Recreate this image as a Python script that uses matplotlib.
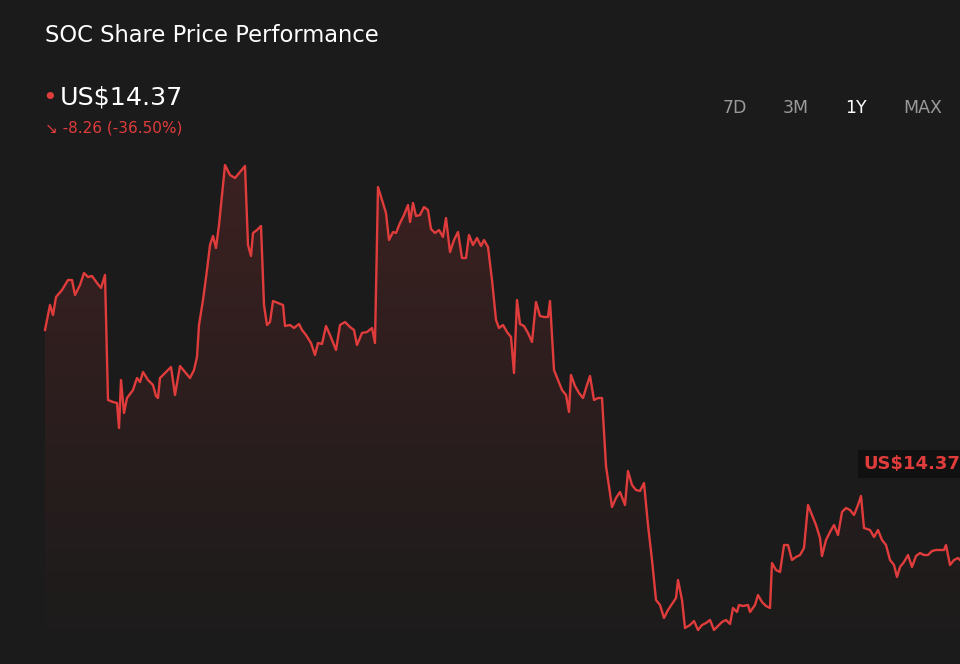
import matplotlib
matplotlib.use("Agg")
import matplotlib.pyplot as plt
import numpy as np
from matplotlib.patches import Polygon
from matplotlib.colors import LinearSegmentedColormap

# readings: (x position, vertical reading), converted to prices below
xs = [45,50,53,56,62,68,72,75,80,84,88,92,97,101,105,108,113,117,119,121,124,127,133,137,140,143,148,153,156,158,160,166,171,175,180,185,190,194,197,199,203,207,210,213,216,219,222,225,230,235,240,245,248,251,253,257,261,264,267,270,273,278,283,285,290,294,299,302,306,311,315,318,322,326,330,334,336,340,345,350,354,357,362,367,372,375,378,382,386,389,393,396,400,404,408,410,413,416,420,424,428,431,435,439,443,446,450,454,458,462,466,469,473,477,481,484,488,492,496,499,503,507,511,514,517,520,524,528,532,536,540,544,548,550,554,558,562,566,569,571,575,579,583,587,590,594,598,602,606,612,616,620,625,628,632,636,640,644,648,652,656,660,664,668,672,676,678,682,685,690,694,698,702,706,710,714,718,722,726,730,733,737,739,743,748,750,755,758,762,766,770,772,776,780,784,788,792,796,800,804,808,812,816,820,822,826,830,834,838,842,846,850,854,858,861,864,870,874,878,882,886,890,894,897,900,904,908,912,916,920,924,928,932,936,940,944,946,950,954,958,960]
ys = [330,305,315,297,290,280,280,295,285,273,277,276,283,288,275,400,402,403,428,380,413,398,390,378,382,372,380,385,396,398,378,372,367,395,366,372,378,370,357,325,300,270,245,236,248,225,195,165,175,178,172,166,245,256,233,230,226,305,325,322,301,303,305,326,325,328,324,330,335,343,355,343,344,326,335,345,350,325,322,327,330,345,333,332,328,343,187,200,213,240,232,233,223,215,205,222,203,216,215,207,210,229,233,230,237,218,252,240,232,258,258,235,245,238,246,240,247,280,320,328,325,332,337,373,300,324,326,333,342,302,316,317,317,301,370,380,390,395,412,375,386,393,398,385,376,400,398,398,466,507,498,492,505,471,485,490,491,483,525,560,600,605,618,610,604,598,580,600,628,625,621,630,625,623,620,630,626,622,620,624,608,612,605,606,605,612,605,595,602,606,608,563,570,572,545,545,560,557,555,548,505,515,525,538,556,540,532,525,535,512,508,510,515,505,496,528,530,537,530,540,545,560,565,577,567,562,555,567,556,553,555,555,551,550,550,550,545,565,560,558,560]
last_price = 14.37
change = -8.26
change_pct = -36.50
px_per_usd = 27.8
prices = [last_price + (560 - y) / px_per_usd for y in ys]

RED = "#e03c3c"
BG = "#1b1b1b"
fig = plt.figure(figsize=(9.6, 6.64), dpi=100, facecolor=BG)
ax = fig.add_axes([0, 0, 1, 1])
ax.set_facecolor(BG)
ymax = last_price + 560 / px_per_usd
ymin = last_price - 104 / px_per_usd
ax.set_xlim(0, 960)
ax.set_ylim(ymin, ymax)
ax.axis("off")

grad = np.linspace(0, 1, 256).reshape(-1, 1)
cmap = LinearSegmentedColormap.from_list("g", [(0.88, 0.24, 0.24, 0.0), (0.88, 0.24, 0.24, 0.17)])
top = max(prices)
im = ax.imshow(grad, extent=[xs[0], xs[-1], ymin, top], origin="lower", cmap=cmap, aspect="auto", zorder=1)
poly = Polygon(list(zip(xs, prices)) + [(xs[-1], ymin), (xs[0], ymin)], closed=True,
               transform=ax.transData, facecolor="none", edgecolor="none")
ax.add_patch(poly)
im.set_clip_path(poly)
ax.plot(xs, prices, color=RED, lw=1.7, zorder=3)

W, H = 960, 664
def T(x, y, s, **kw):
    fig.text(x / W, 1 - y / H, s, **kw)

T(45, 35, "SOC Share Price Performance", color="white", fontsize=16.3, va="center")
T(42, 98, "•", color=RED, fontsize=18, va="center")
T(60, 98, f"US${last_price:.2f}", color="white", fontsize=18.3, va="center")
T(45, 128, f"↘ {change:.2f} ({change_pct:.2f}%)", color=RED, fontsize=11, va="center")
for lbl, x, c in [("7D", 735, "#9a9a9a"), ("3M", 796, "#9a9a9a"), ("1Y", 856, "white"), ("MAX", 923, "#9a9a9a")]:
    T(x, 108, lbl, color=c, fontsize=12.5, va="center", ha="center")
T(863, 464, f"US${last_price:.2f}", color=RED, fontsize=13, fontweight="bold", va="center",
  bbox=dict(boxstyle="square,pad=0.3", facecolor="#111111", edgecolor="none"))

fig.savefig("out.png", dpi=100, facecolor=BG)
